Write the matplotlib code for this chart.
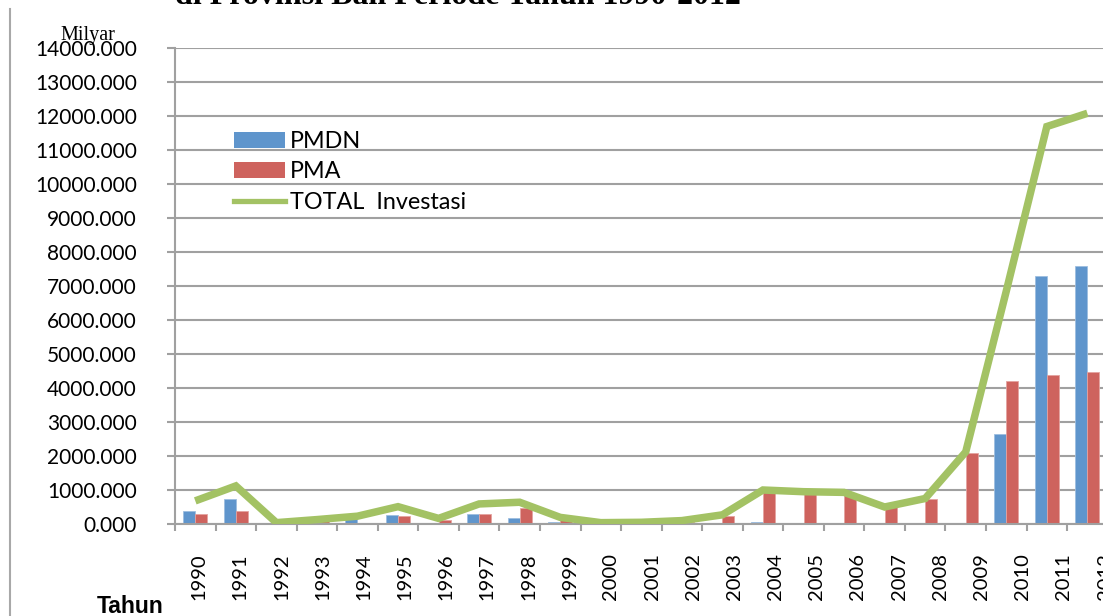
import matplotlib
matplotlib.use("Agg")
import matplotlib.pyplot as plt
import numpy as np
from matplotlib.patches import Patch
from matplotlib.lines import Line2D

years = [str(y) for y in range(1990, 2013)]
pmdn = [380, 750, 20, 40, 200, 270, 40, 295, 170, 70, 20, 25, 50, 30, 50, 40, 40, 10, 20, 40, 2650, 7300, 7600]
pma = [290, 370, 20, 80, 30, 240, 120, 295, 460, 120, 20, 25, 50, 230, 950, 900, 880, 490, 730, 2080, 4200, 4370, 4480]
total = [680, 1120, 40, 130, 230, 510, 165, 590, 640, 195, 40, 50, 100, 270, 1000, 950, 930, 500, 750, 2120, 6850, 11690, 12080]
yticks = list(range(0, 14001, 1000))
title = "di Provinsi Bali Periode Tahun 1990-2012"

W, H = 1103, 616
fig = plt.figure(figsize=(W / 100, H / 100), dpi=100)
px = lambda v: v / W
py = lambda v: 1 - v / H

ncat = len(years)
catw = 40.55
left, right = 175, 175 + ncat * catw
top, bottom = 48, 524
ax = fig.add_axes([px(left), py(bottom), (right - left) / W, (bottom - top) / H])

blue = "#5F95CC"
red = "#CE635E"
green = "#A3C264"
grid = "#A0A0A0"

x = np.arange(ncat)
bw = 0.296
ax.bar(x - bw / 2, pmdn, width=bw, color=blue, edgecolor="#9DBEE0", linewidth=0.6, zorder=2)
ax.bar(x + bw / 2, pma, width=bw, color=red, edgecolor="#E4A3A0", linewidth=0.6, zorder=2)
ax.plot(x, total, color=green, linewidth=5.4, solid_joinstyle="miter", solid_capstyle="butt", zorder=3)

ax.set_xlim(-0.5, ncat - 0.5)
ax.set_ylim(0, 14000)
ax.set_yticks(yticks)
ax.set_yticklabels([f"{v:.3f}" for v in yticks], fontsize=15, family=["Lato", "DejaVu Sans"])
ax.yaxis.grid(True, color=grid, linewidth=1.5, zorder=0)
ax.set_axisbelow(True)
ax.tick_params(axis="y", direction="out", length=6, width=1.5, color=grid, pad=21.5)

# category labels drift slightly to the right in the original rendering
label_pos = 0.092 + x * 1.0156
ax.set_xticks(label_pos)
ax.set_xticklabels(years, rotation=90, fontsize=14.5, family=["Liberation Sans Narrow", "Lato", "DejaVu Sans"])
ax.set_xticks(np.arange(-0.5, ncat, 1), minor=True)
ax.tick_params(axis="x", which="major", length=0, pad=21)
ax.tick_params(axis="x", which="minor", direction="out", length=5.2, width=1.5, color=grid)

for s in ["top", "right"]:
    ax.spines[s].set_visible(False)
for s in ["left", "bottom"]:
    ax.spines[s].set_color(grid)
    ax.spines[s].set_linewidth(1.5)

handles = [Patch(facecolor=blue, edgecolor="none"),
           Patch(facecolor=red, edgecolor="none"),
           Line2D([0], [0], color=green, linewidth=3.8)]
fig.legend(handles, ["PMDN", "PMA", "TOTAL  Investasi"], loc="upper left",
           bbox_to_anchor=(px(234), py(131)), bbox_transform=fig.transFigure,
           frameon=False, borderpad=0, borderaxespad=0, handlelength=2.2, handleheight=0.64,
           handletextpad=0.18, labelspacing=0.4, prop={"family": ["Lato", "DejaVu Sans"], "size": 16.8})

fig.text(px(175), py(4), title, fontsize=23, fontweight="bold", family=["Liberation Serif", "DejaVu Serif"],
         ha="left", va="baseline")
fig.text(px(60), py(40), "Milyar", fontsize=14.5, family=["Liberation Serif", "DejaVu Serif"], ha="left", va="baseline")
fig.text(px(97), py(613), "Tahun", fontsize=16.5, fontweight="bold", family=["Liberation Sans", "DejaVu Sans"],
         ha="left", va="baseline")
fig.add_artist(Line2D([px(10), px(10)], [py(9), 0], color="#A8A8A8", linewidth=1.5, transform=fig.transFigure))

fig.savefig("out.png", dpi=100)
